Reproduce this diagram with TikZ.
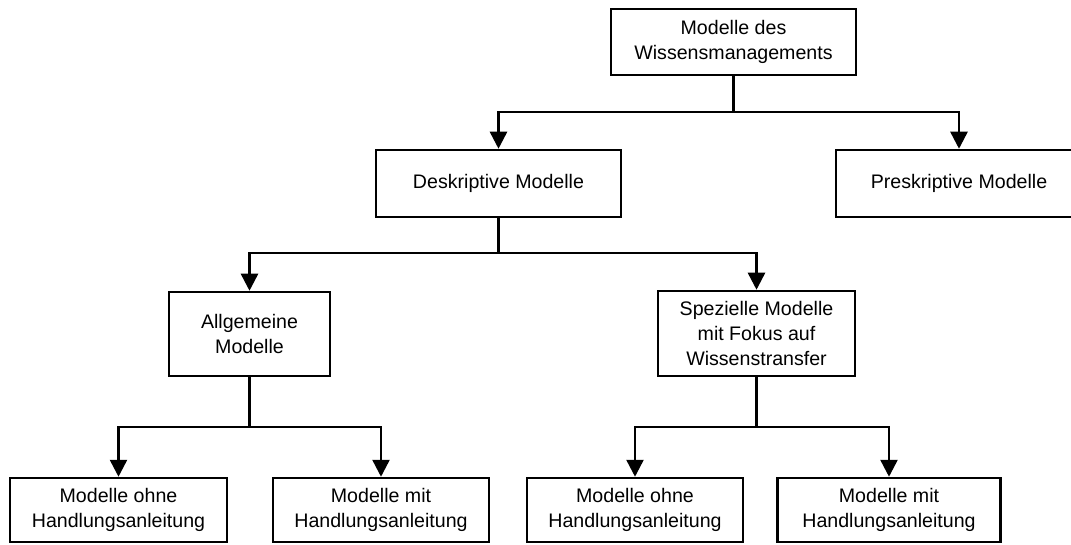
\documentclass[tikz,border=0pt]{standalone}
\usepackage{fontspec}
\setmainfont{Liberation Sans}
\usetikzlibrary{arrows.meta}
\begin{document}
\begin{tikzpicture}[x=1pt,y=-1pt,
  box/.style={draw=black, line width=2.5pt, align=center, inner sep=0pt,
    font=\fontsize{19.6}{25}\selectfont},
  link/.style={line width=2.5pt},
  arr/.style={line width=2.5pt, -{Triangle[width=17pt,length=17pt]}}]
  \useasboundingbox (0,0) rectangle (1071,545);
  \clip (0,0) rectangle (1071,545);
  % boxes
  \node[box, minimum width=245pt, minimum height=66pt] (top) at (733.5,42) {Modelle des\\Wissensmanagements};
  \node[box, minimum width=245pt, minimum height=67pt] (desk) at (498.5,183.5) {Deskriptive Modelle};
  \node[box, minimum width=246pt, minimum height=67pt] (pres) at (959,183.5) {Preskriptive Modelle};
  \node[box, minimum width=161pt, minimum height=84pt] (allg) at (249.5,334) {Allgemeine\\Modelle};
  \node[box, minimum width=197pt, minimum height=85pt] (spez) at (756.5,333.5) {Spezielle Modelle\\mit Fokus auf\\Wissenstransfer};
  \node[box, minimum width=217pt, minimum height=64pt] (ao) at (118.5,510) {Modelle ohne\\Handlungsanleitung};
  \node[box, minimum width=216pt, minimum height=64pt] (am) at (381,510) {Modelle mit\\Handlungsanleitung};
  \node[box, minimum width=216pt, minimum height=64pt] (so) at (635,510) {Modelle ohne\\Handlungsanleitung};
  \node[box, minimum width=223pt, minimum height=64pt] (sm) at (889,510) {Modelle mit\\Handlungsanleitung};
  % branch points
  \coordinate (j1) at (733.5,112);
  \coordinate (j2) at (498.5,253);
  \coordinate (j3) at (249.5,427);
  \coordinate (j4) at (756.5,427);
  % connectors
  \draw[link] (top.south) -- (j1);
  \draw[arr] (j1) -| (desk.north);
  \draw[arr] (j1) -| (pres.north);
  \draw[link] (desk.south) -- (j2);
  \draw[arr] (j2) -| (allg.north);
  \draw[arr] (j2) -| (spez.north);
  \draw[link] (allg.south) -- (j3);
  \draw[arr] (j3) -| (ao.north);
  \draw[arr] (j3) -| (am.north);
  \draw[link] (spez.south) -- (j4);
  \draw[arr] (j4) -| (so.north);
  \draw[arr] (j4) -| (sm.north);
\end{tikzpicture}
\end{document}
